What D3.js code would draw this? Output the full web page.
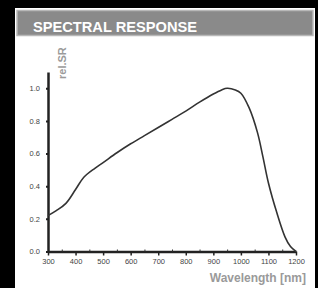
<!DOCTYPE html>
<html><head><meta charset="utf-8">
<script src="https://cdn.jsdelivr.net/npm/d3@7"></script>
<style>body{margin:0;background:#000;}svg{display:block;}</style>
</head><body>
<script>
const title = "SPECTRAL RESPONSE";
const yLabel = "rel.SR";
const xLabel = "Wavelength [nm]";
const wavelength = [300, 330, 365, 400, 430, 470, 500, 550, 600, 650, 700, 750, 800, 850, 900, 930, 950, 980, 1000, 1030, 1060, 1080, 1100, 1130, 1160, 1180, 1200];
const response = [0.22, 0.25, 0.295, 0.38, 0.455, 0.51, 0.545, 0.605, 0.66, 0.71, 0.76, 0.81, 0.86, 0.915, 0.965, 0.99, 1.0, 0.99, 0.97, 0.88, 0.73, 0.58, 0.42, 0.24, 0.09, 0.03, 0.0];
const xTicks = [300, 400, 500, 600, 700, 800, 900, 1000, 1100, 1200];
const xMinorTicks = [350, 450, 550, 650, 750, 850, 950, 1050, 1150];
const yTicks = [0.0, 0.2, 0.4, 0.6, 0.8, 1.0];

const W = 318, H = 288;
const svg = d3.select("body").append("svg").attr("width", W).attr("height", H);
svg.append("rect").attr("width", W).attr("height", H).attr("fill", "#000");
svg.append("rect").attr("x", 15).attr("y", 8).attr("width", 300).attr("height", 280).attr("fill", "#fff");
svg.append("rect").attr("x", 17).attr("y", 10.5).attr("width", 296).attr("height", 25)
  .attr("fill", "#8a8a8a").attr("stroke", "#b8b8b8").attr("stroke-width", 1.5);
svg.append("text").attr("x", 33).attr("y", 31.5).text(title)
  .attr("fill", "#fff").attr("font-family", "Liberation Sans, Arial, sans-serif")
  .attr("font-weight", "bold").attr("font-size", 15)
  .attr("textLength", 164).attr("lengthAdjust", "spacingAndGlyphs");

const x = d3.scaleLinear().domain([300, 1200]).range([48, 296]);
const y = d3.scaleLinear().domain([0, 1.1]).range([251.5, 72]);

const font = "Liberation Sans, Arial, sans-serif";
// x axis
const gx = svg.append("g").attr("transform", `translate(0,${y(0)})`)
  .call(d3.axisBottom(x).tickValues(xTicks).tickSize(4).tickSizeOuter(0).tickPadding(3).tickFormat(d3.format("d")));
gx.selectAll(".tick text").attr("font-size", 7.5).attr("fill", "#444").attr("font-family", font);
gx.selectAll(".tick line").attr("stroke", "#222").attr("stroke-width", 1.5);
gx.select(".domain").attr("stroke", "#222").attr("stroke-width", 2.5);
const gxm = svg.append("g").attr("transform", `translate(0,${y(0)})`)
  .call(d3.axisTop(x).tickValues(xMinorTicks).tickSize(2).tickSizeOuter(0).tickFormat(""));
gxm.select(".domain").remove();
gxm.selectAll(".tick line").attr("stroke", "#333").attr("stroke-width", 1);

// y axis
const gy = svg.append("g").attr("transform", `translate(${x(300)},0)`)
  .call(d3.axisLeft(y).tickValues(yTicks).tickSize(2).tickSizeOuter(0).tickPadding(6).tickFormat(d3.format(".1f")));
gy.selectAll(".tick text").attr("font-size", 7.5).attr("fill", "#444").attr("font-family", font);
gy.selectAll(".tick line").attr("stroke", "#222").attr("stroke-width", 2);
gy.select(".domain").attr("stroke", "#222").attr("stroke-width", 2.5);

// curve
const line = d3.line().x((d, i) => x(wavelength[i])).y(d => y(d)).curve(d3.curveCatmullRom.alpha(0.5));
svg.append("path").datum(response).attr("d", line)
  .attr("fill", "none").attr("stroke", "#333").attr("stroke-width", 1.6);

// labels
svg.append("text").attr("transform", "translate(66,79) rotate(-90)").text(yLabel)
  .attr("fill", "#9a9a9a").attr("font-family", font).attr("font-weight", "bold")
  .attr("font-size", 11);
svg.append("text").attr("x", 306).attr("y", 282).attr("text-anchor", "end").text(xLabel)
  .attr("fill", "#9a9a9a").attr("font-family", font)
  .attr("font-weight", "bold").attr("font-size", 12);
</script>
</body></html>
